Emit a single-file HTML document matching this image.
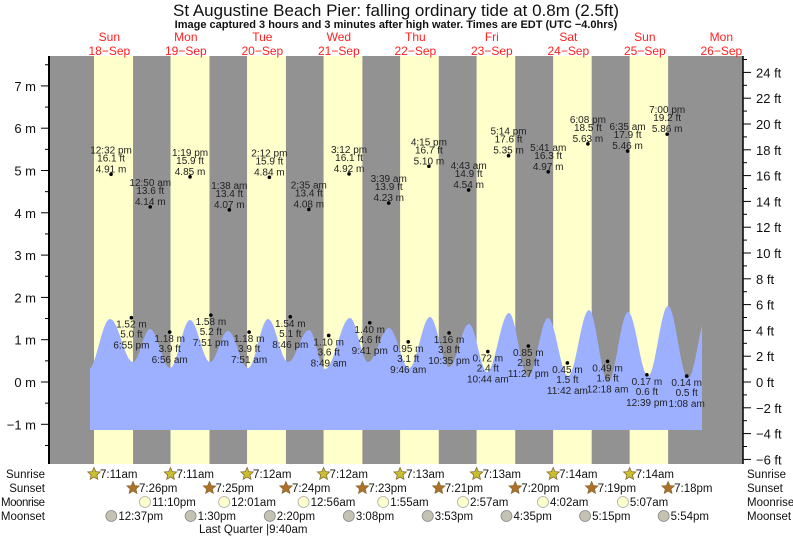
<!DOCTYPE html>
<html><head><meta charset="utf-8"><style>
html,body{margin:0;padding:0;background:#fff;}
svg{display:block;font-family:"Liberation Sans",sans-serif;}
</style></head><body>
<svg id="s" width="793" height="537" viewBox="0 0 793 537" xmlns="http://www.w3.org/2000/svg"></svg>
<script>
const s=document.getElementById('s');let h='';
const X0=71.1,PX=3.1875;
const xt=(d,hh,mm)=>X0+(d*24+hh+mm/60)*PX;
const ym=m=>382-m*42.3;
h+='<text x="396" y="16" font-size="17" text-anchor="middle" fill="#111">St Augustine Beach Pier: falling  ordinary tide at 0.8m (2.5ft)</text>';
h+='<text x="396" y="28" font-size="11" font-weight="bold" text-anchor="middle" fill="#111">Image captured 3 hours and 3 minutes after high water. Times are EDT (UTC −4.0hrs)</text>';
h+='<rect x="49" y="56" width="694" height="408" fill="#929292"/>';
const sr=[[7,11],[7,11],[7,12],[7,12],[7,13],[7,13],[7,14],[7,14]];
const ss=[[19,26],[19,25],[19,24],[19,23],[19,21],[19,20],[19,19],[19,18]];
for(let d=0;d<8;d++){const a=xt(d,...sr[d]),b=xt(d,...ss[d]);h+=`<rect x="${a}" y="56" width="${b-a}" height="408" fill="#ffffcc"/>`;}
const days=['Sun','Mon','Tue','Wed','Thu','Fri','Sat','Sun','Mon'];
for(let d=0;d<9;d++){const x=xt(d,12,0);h+=`<text x="${x}" y="41" font-size="12" fill="#ff2020" text-anchor="middle">${days[d]}</text><text x="${x}" y="55" font-size="12" fill="#ff2020" text-anchor="middle">${18+d}−Sep</text>`;}
const ex=[[88,370],[110,319],[133,362],[150,329],[170,368],[190,320],[210,362],[228,331],[248,368],[268,319],[288,362],[309,330],[325,369],[350,318],[368,362],[389,328],[409,368],[430,317],[449,367],[469,324],[487,372],[509,313],[528,377],[548,318],[568,376],[589,310],[608,382],[628,312],[648,376],[668,306],[688,378],[708,312]];
let p='M90 430';
for(let x=90;x<=702;x+=1){let i=0;while(ex[i+1][0]<x)i++;const[a,ya]=ex[i],[b,yb]=ex[i+1];const t=(x-a)/(b-a);const y=ya+(yb-ya)*(1-Math.cos(Math.PI*t))/2;p+=` L${x} ${y.toFixed(1)}`;}
p+=' L702 430 Z';
h+=`<path d="${p}" fill="#9db0ff"/>`;
h+='<line x1="49" y1="56" x2="49" y2="464" stroke="#000" stroke-width="2"/><line x1="743" y1="56" x2="743" y2="464" stroke="#000" stroke-width="1.5"/>';
for(let m=-1.5;m<=7.5;m+=0.5){const y=ym(m);const maj=Number.isInteger(m);h+=`<line x1="${maj?41:45}" y1="${y}" x2="49" y2="${y}" stroke="#000"/>`;if(maj)h+=`<text x="36" y="${y+5}" font-size="13" text-anchor="end" fill="#111">${m<0?'−'+(-m):m} m</text>`;}
for(let f=-6;f<=25;f++){const y=382-f*12.9;if(y<56)continue;const maj=f%2==0;h+=`<line x1="743" y1="${y}" x2="${maj?751:747}" y2="${y}" stroke="#000"/>`;if(maj)h+=`<text x="756" y="${y+5}" font-size="13" fill="#111">${f<0?'−'+(-f):f} ft</text>`;}
const hi=[[0,12,32,'12:32 pm','16.1',4.91],[1,0,50,'12:50 am','13.6',4.14],[1,13,19,'1:19 pm','15.9',4.85],[2,1,38,'1:38 am','13.4',4.07],[2,14,12,'2:12 pm','15.9',4.84],[3,2,35,'2:35 am','13.4',4.08],[3,15,12,'3:12 pm','16.1',4.92],[4,3,39,'3:39 am','13.9',4.23],[4,16,15,'4:15 pm','16.7',5.10],[5,4,43,'4:43 am','14.9',4.54],[5,17,14,'5:14 pm','17.6',5.35],[6,5,41,'5:41 am','16.3',4.97],[6,18,8,'6:08 pm','18.5',5.63],[7,6,35,'6:35 am','17.9',5.46],[7,19,0,'7:00 pm','19.2',5.86]];
for(const[d,hh,mm,t,f,m]of hi){const x=xt(d,hh,mm),y=ym(m);h+=`<circle cx="${x}" cy="${y}" r="1.8" fill="#000"/><g font-size="10" fill="#222" text-anchor="middle"><text x="${x}" y="${y-21}">${t}</text><text x="${x}" y="${y-13}">${f} ft</text><text x="${x}" y="${y-2}">${m.toFixed(2)} m</text></g>`;}
const lo=[[0,18,55,'6:55 pm','5.0',1.52],[1,6,56,'6:56 am','3.9',1.18],[1,19,51,'7:51 pm','5.2',1.58],[2,7,51,'7:51 am','3.9',1.18],[2,20,46,'8:46 pm','5.1',1.54],[3,8,49,'8:49 am','3.6',1.10],[3,21,41,'9:41 pm','4.6',1.40],[4,9,46,'9:46 am','3.1',0.95],[4,22,35,'10:35 pm','3.8',1.16],[5,10,44,'10:44 am','2.4',0.72],[5,23,27,'11:27 pm','2.8',0.85],[6,11,42,'11:42 am','1.5',0.45],[7,0,18,'12:18 am','1.6',0.49],[7,12,39,'12:39 pm','0.6',0.17],[8,1,8,'1:08 am','0.5',0.14]];
for(const[d,hh,mm,t,f,m]of lo){const x=xt(d,hh,mm),y=ym(m);h+=`<circle cx="${x}" cy="${y}" r="1.8" fill="#000"/><g font-size="10" fill="#222" text-anchor="middle"><text x="${x}" y="${y+10}">${m.toFixed(2)} m</text><text x="${x}" y="${y+20}">${f} ft</text><text x="${x}" y="${y+31}">${t}</text></g>`;}
const lab=[['Sunrise',478],['Sunset',492],['Moonrise',506],['Moonset',520]];
for(const[n,y]of lab){h+=`<text x="45" y="${y}" font-size="11.5" text-anchor="end" fill="#111"${n=='Moonrise'?' textLength="44"':''}>${n}</text><text x="747" y="${y}" font-size="11.5" fill="#111">${n}</text>`;}
function star(cx,cy,c){let q='';for(let i=0;i<10;i++){const r=i%2?3:6.5,a=-Math.PI/2+i*Math.PI/5;q+=`${(cx+r*Math.cos(a)).toFixed(1)},${(cy+r*Math.sin(a)).toFixed(1)} `;}return `<polygon points="${q}" fill="${c}" stroke="#8a6a30" stroke-width="0.8"/>`;}
const fm=(hh,mm,pm)=>`${hh>12?hh-12:hh}:${String(mm).padStart(2,'0')}${pm}`;
for(let d=0;d<8;d++){let x=xt(d,...sr[d]);h+=star(x,474,'#c8c030')+`<text x="${x+6}" y="478" font-size="11.5" fill="#111">${fm(...sr[d],'am')}</text>`;x=xt(d,...ss[d]);h+=star(x,488,'#b0702a')+`<text x="${x+6}" y="492" font-size="11.5" fill="#111">${fm(...ss[d],'pm')}</text>`;}
const mr=[[0,23,10,'11:10pm'],[2,0,1,'12:01am'],[3,0,56,'12:56am'],[4,1,55,'1:55am'],[5,2,57,'2:57am'],[6,4,2,'4:02am'],[7,5,7,'5:07am']];
for(const[d,hh,mm,t]of mr){const x=xt(d,hh,mm);h+=`<circle cx="${x}" cy="502" r="5.5" fill="#ffffcc" stroke="#aaa" stroke-width="0.8"/><text x="${x+7}" y="506" font-size="11.5" fill="#111">${t}</text>`;}
const ms=[[0,12,37,'12:37pm'],[1,13,30,'1:30pm'],[2,14,20,'2:20pm'],[3,15,8,'3:08pm'],[4,15,53,'3:53pm'],[5,16,35,'4:35pm'],[6,17,15,'5:15pm'],[7,17,54,'5:54pm']];
for(const[d,hh,mm,t]of ms){const x=xt(d,hh,mm);h+=`<circle cx="${x}" cy="516" r="5.5" fill="#c4c2b0" stroke="#888" stroke-width="0.8"/><text x="${x+7}" y="520" font-size="11.5" fill="#111">${t}</text>`;}
h+='<text x="199" y="533" font-size="11.5" fill="#111">Last Quarter |9:40am</text>';
s.innerHTML=h;
</script>
</body></html>
